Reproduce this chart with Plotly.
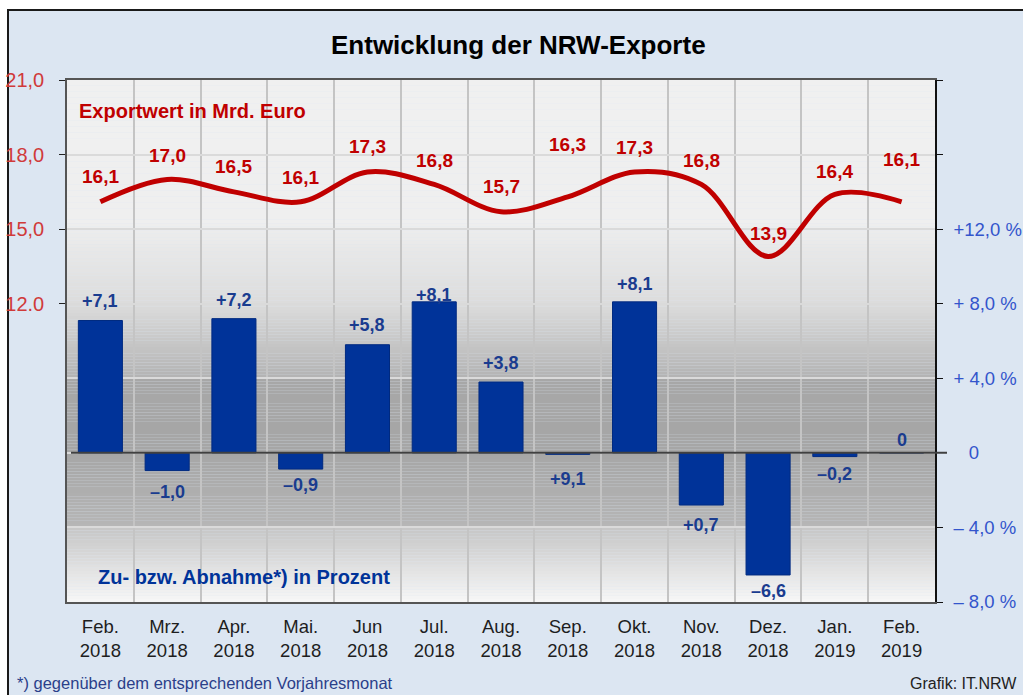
import plotly.graph_objects as go

# ---------------- data ----------------
months = ["Feb.<br>2018", "Mrz.<br>2018", "Apr.<br>2018", "Mai.<br>2018", "Jun<br>2018",
          "Jul.<br>2018", "Aug.<br>2018", "Sep.<br>2018", "Okt.<br>2018", "Nov.<br>2018",
          "Dez.<br>2018", "Jan.<br>2019", "Feb.<br>2019"]
export_value = [16.1, 17.0, 16.5, 16.1, 17.3, 16.8, 15.7, 16.3, 17.3, 16.8, 13.9, 16.4, 16.1]
export_labels = ["16,1", "17,0", "16,5", "16,1", "17,3", "16,8", "15,7", "16,3", "17,3",
                 "16,8", "13,9", "16,4", "16,1"]
change_pct = [7.1, -0.95, 7.2, -0.87, 5.8, 8.1, 3.8, -0.08, 8.1, -2.8, -6.55, -0.2, 0.0]
change_labels = ["+7,1", "–1,0", "+7,2", "–0,9", "+5,8", "+8,1", "+3,8", "+9,1", "+8,1",
                 "+0,7", "–6,6", "–0,2", "0"]
left_ticks = [12, 15, 18, 21]
left_ticktext = ["12.0", "15,0", "18,0", "21,0"]
right_ticks = [-8, -4, 0, 4, 8, 12, 16, 20]
right_ticktext = ["– 8,0 %", "– 4,0 %", "\u00a0\u00a0\u00a00", "+ 4,0 %", "+ 8,0 %", "+12,0 %", "", ""]

# ---------------- layout helpers ----------------
W, H = 1023, 695
L, R, T, B = 67, 88, 80, 93
PW, PH = W - L - R, H - T - B


def px_x(p):
    return (p - L) / PW


def px_y(p):
    return (H - B - p) / PH


FONT = "Liberation Sans, Arial, sans-serif"
RED = "#c00000"
BLUE = "#003399"

# label pixel shifts (styling only)
red_shift = [25, 24, 25, 24, 25, 24, 25, 52, 24, 24, 23, 23, 42]
blue_shift = [19, 21, 19, 16, 20, 7, 19, 25, 18, 20, 16, 17, 13]

xs = list(range(len(months)))

fig = go.Figure()
fig.add_trace(go.Bar(
    x=xs, y=change_pct, yaxis="y2", width=0.66,
    marker=dict(color=BLUE, line=dict(color="#002a80", width=1)),
    hoverinfo="skip", showlegend=False,
))
fig.add_trace(go.Scatter(
    x=xs, y=export_value, yaxis="y", mode="lines",
    line=dict(color=RED, width=5, shape="spline", smoothing=1.0),
    hoverinfo="skip", showlegend=False,
))

shapes = []
# outer frame
shapes.append(dict(type="rect", xref="paper", yref="paper", layer="below",
                   x0=px_x(8), x1=px_x(1040), y0=px_y(10), y1=px_y(720),
                   fillcolor="#dce6f2", line=dict(color="#1a1a1a", width=2)))


# gradient background bands (in % axis units)
def hex2rgb(h):
    h = h.lstrip("#")
    return [int(h[i:i + 2], 16) for i in (0, 2, 4)]


stops = [(20, "#f0f0f0"), (12.5, "#efefef"), (8, "#dcdcdc"), (4.02, "#b3b3b3"),
         (4.0, "#a7a7a7"), (0, "#a6a6a6"), (-3.98, "#b6b6b6"), (-4.0, "#c6c6c6"),
         (-8, "#f7f7f7")]
N = 24
for (ya, ca), (yb, cb) in zip(stops[:-1], stops[1:]):
    a, b = hex2rgb(ca), hex2rgb(cb)
    n = N if a != b else 1
    for k in range(n):
        t0, t1 = k / n, (k + 1) / n
        tm = (t0 + t1) / 2
        col = "rgb({},{},{})".format(*[round(a[i] + (b[i] - a[i]) * tm) for i in range(3)])
        shapes.append(dict(type="rect", xref="x", yref="y2", layer="below",
                           x0=-0.5, x1=12.5, y0=ya + (yb - ya) * t0,
                           y1=ya + (yb - ya) * t1,
                           fillcolor=col, line=dict(width=0)))
# zero line extending past right axis
shapes.append(dict(type="line", xref="paper", yref="y2", layer="above",
                   x0=px_x(71), x1=px_x(947), y0=0, y1=0,
                   line=dict(color="#404040", width=2)))

annotations = []


def paper_text(text, x, y, size, color, xanchor="center"):
    annotations.append(dict(text=text, xref="paper", yref="paper", x=px_x(x), y=px_y(y),
                            xanchor=xanchor, yanchor="middle", showarrow=False,
                            font=dict(family=FONT, size=size, color=color)))


paper_text("<b>Entwicklung der NRW-Exporte</b>", 518, 45, 26, "#000000")
paper_text("<b>Exportwert in Mrd. Euro</b>", 77, 111, 20, RED, "left")
paper_text("<b>Zu- bzw. Abnahme*) in Prozent</b>", 96, 577, 20, BLUE, "left")
paper_text("*) gegenüber dem entsprechenden Vorjahresmonat", 15, 683, 16.5, "#2b3f8a", "left")
paper_text("Grafik: IT.NRW", 1019, 683, 16, "#222222", "right")

for i, (v, lab) in enumerate(zip(export_value, export_labels)):
    annotations.append(dict(text="<b>" + lab + "</b>", x=i, y=v, xref="x", yref="y",
                            yshift=red_shift[i], showarrow=False, yanchor="middle",
                            font=dict(family=FONT, size=19, color=RED)))
for i, (v, lab) in enumerate(zip(change_pct, change_labels)):
    s = blue_shift[i] if v >= 0 else -blue_shift[i]
    annotations.append(dict(text="<b>" + lab + "</b>", x=i, y=v, xref="x", yref="y2",
                            yshift=s, showarrow=False, yanchor="middle",
                            font=dict(family=FONT, size=18, color="#1a3c8f")))

fig.update_layout(
    width=W, height=H,
    margin=dict(l=L, r=R, t=T, b=B, pad=0, autoexpand=False),
    paper_bgcolor="#ffffff", plot_bgcolor="rgba(0,0,0,0)",
    font=dict(family=FONT),
    bargap=0.34,
    shapes=shapes, annotations=annotations,
    xaxis=dict(range=[-0.5, 12.5], tickmode="array", tickvals=xs, ticktext=months,
               showgrid=False, zeroline=False, showline=True, mirror=True,
               linecolor="#555555", linewidth=1.5, ticks="", automargin=False,
               tickfont=dict(family=FONT, size=18.5, color="#1e1e1e"),
               ticklabelstandoff=7,
               minor=dict(tickmode="array", tickvals=[i + 0.5 for i in xs[:-1]],
                          showgrid=True, gridcolor="#c4c4c4", gridwidth=1.5, ticks="")),
    yaxis=dict(range=[0, 21], tickmode="array", tickvals=left_ticks, ticktext=left_ticktext,
               showgrid=False, zeroline=False, showline=True, linecolor="#555555",
               linewidth=1.5, ticks="outside", ticklen=6, tickcolor="#222222",
               automargin=False,
               tickfont=dict(family=FONT, size=20, color="#d03a3a"),
               ticklabelstandoff=11),
    yaxis2=dict(range=[-8, 20], overlaying="y", side="right", tickmode="array",
                tickvals=right_ticks, ticktext=right_ticktext, automargin=False,
                showgrid=True, gridcolor="#dadada", gridwidth=1.5, zeroline=False,
                showline=True, linecolor="#111111", linewidth=1.5,
                ticks="outside", ticklen=6, tickcolor="#111111",
                tickfont=dict(family=FONT, size=18.5, color="#3355cc"),
                ticklabelstandoff=7),
)

fig.write_html("out.html")
